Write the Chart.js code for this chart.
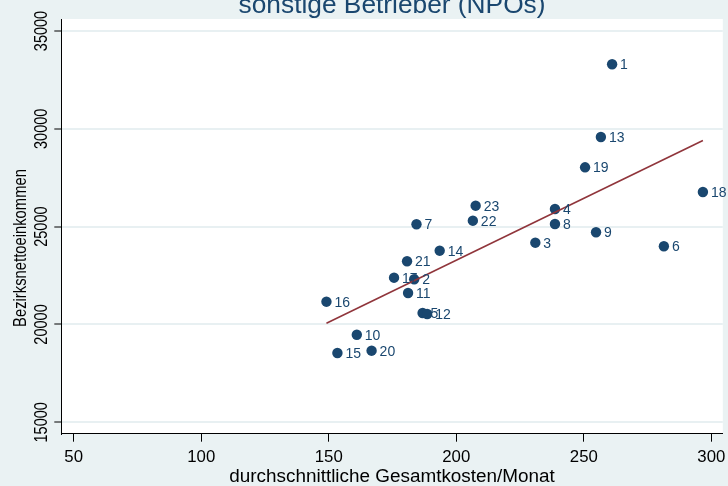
<!DOCTYPE html>
<html>
<head>
<meta charset="utf-8">
<script src="https://cdn.jsdelivr.net/npm/chart.js@4.4.1/dist/chart.umd.min.js"></script>
<style>
  html, body { margin: 0; padding: 0; background: #EAF2F3; }
  #wrap { width: 728px; height: 486px; position: relative; }
</style>
</head>
<body>
<div id="wrap"><canvas id="scatterChart" width="728" height="486"></canvas></div>
<script>
// Bezirke: durchschnittliche Gesamtkosten/Monat vs. Bezirksnettoeinkommen
const bezirk = ["1","2","3","4","5","6","7","8","9","10","11","12","13","14","15","16","17","18","19","20","21","22","23"];
const kosten = [261.1, 183.5, 231.0, 238.7, 186.8, 281.4, 184.4, 238.7, 254.8, 161.0, 181.1, 188.6, 256.7, 193.5, 153.4, 149.1, 175.6, 296.7, 250.5, 166.8, 180.7, 206.5, 207.6];
const einkommen = [33298, 22309, 24180, 25902, 20586, 23996, 25120, 25136, 24711, 19477, 21609, 20535, 29582, 23771, 18542, 21164, 22391, 26771, 28033, 18660, 23229, 25304, 26071];

const fitX = [149.1, 296.7];
const fitY = [20060, 29400];

const xTicks = [50, 100, 150, 200, 250, 300];
const yTicks = [15000, 20000, 25000, 30000, 35000];

const titleText = "sonstige Betrieber (NPOs)";
const xTitle = "durchschnittliche Gesamtkosten/Monat";
const yTitle = "Bezirksnettoeinkommen";

const navy = "#1A476F";
const maroon = "#90353B";
const gridColor = "#E8F0F2";
const fontFam = "'Liberation Sans', Arial, sans-serif";
const vWiden = 1.27; // turned text is thicker than it is long

function drawText(c, txt, x, y, size, rotated) {
  c.save();
  c.font = size + "px " + fontFam;
  c.translate(x, y);
  if (rotated) {
    c.rotate(-Math.PI / 2);
    c.scale(1, vWiden);
  }
  c.fillText(txt, 0, 0);
  c.restore();
}

const textPlugin = {
  id: "textPlugin",
  afterDatasetsDraw(chart) {
    const c = chart.ctx;
    const area = chart.chartArea;
    const xs = chart.scales.x;
    const ys = chart.scales.y;
    c.save();

    // marker labels
    c.fillStyle = navy;
    c.textAlign = "left";
    c.textBaseline = "middle";
    chart.getDatasetMeta(1).data.forEach((pt, i) => {
      drawText(c, bezirk[i], pt.x + 8, pt.y + 1, 14, false);
    });

    c.fillStyle = "#000";
    c.textAlign = "center";
    c.textBaseline = "alphabetic";

    // x tick labels
    xTicks.forEach(v => {
      drawText(c, String(v), xs.getPixelForValue(v), 462, 16.8, false);
    });

    // y tick labels (rotated)
    yTicks.forEach(v => {
      drawText(c, String(v), 46.5, ys.getPixelForValue(v), 14.5, true);
    });

    // axis titles
    drawText(c, yTitle, 26, 248, 14.8, true);
    drawText(c, xTitle, (area.left + area.right) / 2, 482, 18.9, false);

    // main title, cut at the top
    c.fillStyle = navy;
    drawText(c, titleText, (area.left + area.right) / 2, 13.3, 26.3, false);

    c.restore();
  }
};

const ctx = document.getElementById("scatterChart");
const chart = new Chart(ctx, {
  type: "scatter",
  data: {
    datasets: [
      {
        type: "line",
        label: "fit",
        data: fitX.map((x, i) => ({ x: x, y: fitY[i] })),
        borderColor: maroon,
        borderWidth: 1.6,
        pointRadius: 0,
        fill: false,
        tension: 0
      },
      {
        label: "Bezirke",
        data: kosten.map((x, i) => ({ x: x, y: einkommen[i] })),
        backgroundColor: navy,
        borderColor: navy,
        borderWidth: 0,
        pointRadius: 5.2
      }
    ]
  },
  options: {
    responsive: false,
    animation: false,
    layout: { padding: { top: 19, right: 4.7, left: 0, bottom: 0 } },
    plugins: {
      legend: { display: false },
      tooltip: { enabled: false }
    },
    scales: {
      x: {
        type: "linear",
        min: 45.14,
        max: 304.5,
        afterBuildTicks: s => { s.ticks = xTicks.map(v => ({ value: v })); },
        afterFit: s => { s.height = 52.3; },
        border: { display: true, color: "#000", width: 1 },
        grid: { drawOnChartArea: false, drawTicks: true, tickLength: 8, color: "#000", tickColor: "#000" },
        ticks: { display: false }
      },
      y: {
        type: "linear",
        min: 14417,
        max: 35613,
        afterBuildTicks: s => { s.ticks = yTicks.map(v => ({ value: v })); },
        afterFit: s => { s.width = 61.3; },
        border: { display: true, color: "#000", width: 1 },
        grid: { drawOnChartArea: true, drawTicks: true, tickLength: 7, color: gridColor, lineWidth: 2, tickColor: "#000", tickWidth: 1 },
        ticks: { display: false }
      }
    }
  },
  plugins: [textPlugin, {
    id: "plotBg",
    beforeDraw(chart) {
      const a = chart.chartArea;
      chart.ctx.save();
      chart.ctx.fillStyle = "#fff";
      chart.ctx.fillRect(a.left, a.top, a.right - a.left, a.bottom - a.top);
      chart.ctx.restore();
    }
  }]
});
</script>
</body>
</html>
